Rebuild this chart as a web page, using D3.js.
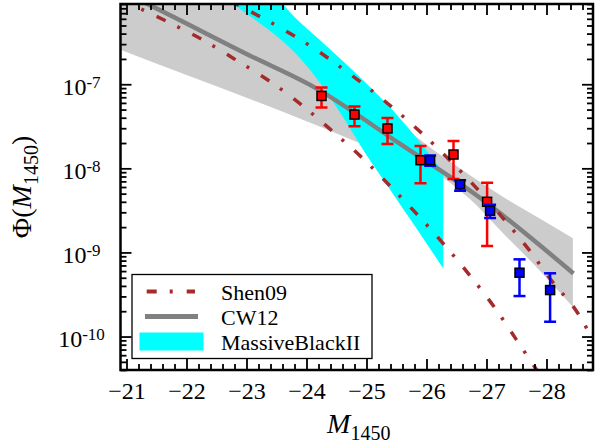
<!DOCTYPE html>
<html>
<head>
<meta charset="utf-8">
<script src="https://cdn.jsdelivr.net/npm/d3@7"></script>
<style>
  html, body { margin: 0; padding: 0; background: #ffffff; }
  svg { display: block; }
  svg text { font-family: "Liberation Serif", "Times New Roman", "DejaVu Serif", serif !important; fill: #000; }
</style>
</head>
<body>
<div id="chart"></div>
<script>
// ---------------- data ----------------
// x-axis ticks (M_1450)
const xMajorTicks = [-21, -22, -23, -24, -25, -26, -27, -28];
// y-axis major ticks (Phi)
const yMajorTicks = [1e-10, 1e-9, 1e-8, 1e-7];
const yTickExponents = ["-10", "-9", "-8", "-7"];

// red data points with error bars
const redM   = [-24.25, -24.80, -25.35, -25.90, -26.45, -27.01];
const redPhi = [7.26e-8, 4.36e-8, 2.98e-8, 1.25e-8, 1.46e-8, 4.0e-9];
const redHi  = [9.14e-8, 5.43e-8, 3.98e-8, 1.85e-8, 2.12e-8, 6.73e-9];
const redLo  = [5.28e-8, 3.17e-8, 1.95e-8, 6.67e-9, 7.45e-9, 1.19e-9];

// blue data points with error bars
const blueM   = [-26.06, -26.56, -27.06, -27.55, -28.06];
const bluePhi = [1.25e-8, 6.44e-9, 3.13e-9, 5.74e-10, 3.57e-10];
const blueHi  = [1.42e-8, 7.24e-9, 3.68e-9, 8.28e-10, 5.65e-10];
const blueLo  = [1.07e-8, 5.41e-9, 2.56e-9, 3.03e-10, 1.50e-10];

// CW12 fit line (log10 Phi)
const cwM   = [-20.9, -21.39, -23.06, -24.14, -25.56, -26.89, -28.45];
const cwLog = [-5.89, -6.06, -6.66, -7.04, -7.71, -8.35, -9.25];

// CW12 uncertainty band (log10 Phi)
const cwBandM     = [-20.9, -22.0, -23.0, -24.0, -25.0, -26.0, -26.7, -27.3, -27.8, -28.44];
const cwBandHiLog = [-5.65, -5.86, -6.10, -6.54, -7.13, -7.72, -8.07, -8.35, -8.56, -8.83];
const cwBandLoLog = [-6.59, -6.89, -7.16, -7.44, -7.73, -7.98, -8.35, -8.79, -9.15, -9.65];

// MassiveBlackII band (log10 Phi)
const mbM     = [-22.6, -23.0, -23.4, -23.8, -24.2, -24.6, -25.0, -25.4, -25.8, -26.28];
const mbHiLog = [-5.40, -5.60, -5.88, -6.20, -6.46, -6.72, -6.99, -7.28, -7.61, -8.05];
const mbLoLog = [-5.96, -6.16, -6.37, -6.62, -6.96, -7.38, -7.84, -8.26, -8.68, -9.19];

// Shen09 curves (log10 Phi)
const shenAM   = [-20.9, -21.11, -21.75, -22.34, -22.89, -23.44, -23.96, -24.45, -24.95, -25.42, -25.86, -26.31, -26.73, -27.13, -27.50, -27.84, -28.0];
const shenALog = [-5.99, -6.06, -6.28, -6.50, -6.74, -6.99, -7.27, -7.57, -7.89, -8.23, -8.56, -8.92, -9.28, -9.65, -10.04, -10.40, -10.57];
const shenBM   = [-21.89, -23.00, -23.59, -24.14, -24.67, -25.20, -25.67, -26.17, -26.63, -27.20, -27.71, -28.10, -28.52, -28.70, -28.89];
const shenBLog = [-5.71, -6.11, -6.34, -6.58, -6.85, -7.14, -7.42, -7.75, -8.08, -8.53, -8.97, -9.35, -9.72, -9.94, -10.18];

const legendLabels = ["Shen09", "CW12", "MassiveBlackII"];

// ---------------- layout ----------------
const W = 596, H = 445;
const L = 120.5, R = 593, T = 4, B = 370;
const colors = { shen: "#a52a2a", cw: "#808080", band: "#cccccc", mb: "#00ffff", red: "#ff0000", blue: "#0000ff" };
const shenDash = "10,13,3,14";

const svg = d3.select("#chart").append("svg").attr("width", W).attr("height", H);

const x = d3.scaleLinear().domain([-20.9, -28.775]).range([L, R]);
const y = d3.scaleLog().domain([4.0e-11, 9.0e-7]).range([B, T]);
const p = v => Math.pow(10, v);

svg.append("defs").append("clipPath").attr("id", "plotclip")
  .append("rect").attr("x", L).attr("y", T).attr("width", R - L).attr("height", B - T);

const plot = svg.append("g").attr("clip-path", "url(#plotclip)");

// CW12 band
const cwBand = cwBandM.map((m, i) => ({ m, hi: p(cwBandHiLog[i]), lo: p(cwBandLoLog[i]) }));
plot.append("path").datum(cwBand)
  .attr("d", d3.area().x(d => x(d.m)).y0(d => y(d.lo)).y1(d => y(d.hi)).curve(d3.curveMonotoneX))
  .attr("fill", colors.band).attr("stroke", "none");

// MassiveBlackII band
const mbBand = mbM.map((m, i) => ({ m, hi: p(mbHiLog[i]), lo: p(mbLoLog[i]) }));
plot.append("path").datum(mbBand)
  .attr("d", d3.area().x(d => x(d.m)).y0(d => y(d.lo)).y1(d => y(d.hi)).curve(d3.curveMonotoneX))
  .attr("fill", colors.mb).attr("stroke", "none");

const line = d3.line().x(d => x(d.m)).y(d => y(d.v)).curve(d3.curveMonotoneX);

// CW12 line
plot.append("path").datum(cwM.map((m, i) => ({ m, v: p(cwLog[i]) })))
  .attr("d", line).attr("fill", "none").attr("stroke", colors.cw).attr("stroke-width", 4.5);

// Shen09 curves
[[shenAM, shenALog], [shenBM, shenBLog]].forEach(([ms, ls]) => {
  plot.append("path").datum(ms.map((m, i) => ({ m, v: p(ls[i]) })))
    .attr("d", line).attr("fill", "none").attr("stroke", colors.shen)
    .attr("stroke-width", 3.5).attr("stroke-dasharray", shenDash);
});

// data points
function drawPoints(ms, phi, hi, lo, col) {
  const g = plot.append("g");
  const pts = ms.map((m, i) => ({ m, v: phi[i], hi: hi[i], lo: lo[i] }));
  const eb = g.selectAll("g.eb").data(pts).enter().append("g");
  eb.append("line").attr("x1", d => x(d.m)).attr("x2", d => x(d.m))
    .attr("y1", d => y(d.hi)).attr("y2", d => y(d.lo))
    .attr("stroke", col).attr("stroke-width", 2.5);
  eb.append("line").attr("x1", d => x(d.m) - 6).attr("x2", d => x(d.m) + 6)
    .attr("y1", d => y(d.hi)).attr("y2", d => y(d.hi))
    .attr("stroke", col).attr("stroke-width", 2.5);
  eb.append("line").attr("x1", d => x(d.m) - 6).attr("x2", d => x(d.m) + 6)
    .attr("y1", d => y(d.lo)).attr("y2", d => y(d.lo))
    .attr("stroke", col).attr("stroke-width", 2.5);
  g.selectAll("rect").data(pts).enter().append("rect")
    .attr("x", d => x(d.m) - 4.5).attr("y", d => y(d.v) - 4.5)
    .attr("width", 9).attr("height", 9)
    .attr("fill", col).attr("stroke", "#000").attr("stroke-width", 1.5);
}
drawPoints(redM, redPhi, redHi, redLo, colors.red);
drawPoints(blueM, bluePhi, blueHi, blueLo, colors.blue);

// ---------------- axes ----------------
const xMinorTicks = d3.range(-21.0, -28.71, -0.2).map(v => +v.toFixed(1))
  .filter(v => !xMajorTicks.includes(v));
const yMinorTicks = [];
for (let e = -11; e <= -7; e++) for (let k = 2; k <= 9; k++) {
  const v = k * Math.pow(10, e);
  if (v >= 4.0e-11 && v <= 9.0e-7) yMinorTicks.push(v);
}

function styleAxis(g) {
  g.select(".domain").remove();
  g.selectAll(".tick line").attr("stroke", "#000").attr("stroke-width", 1.8);
}

// bottom
svg.append("g").attr("transform", `translate(0,${B})`)
  .call(d3.axisBottom(x).tickValues(xMajorTicks).tickSize(-11).tickPadding(12)
    .tickFormat(d => "\u2212" + Math.abs(d)))
  .call(styleAxis)
  .call(g => g.selectAll("text").attr("font-size", 24));
svg.append("g").attr("transform", `translate(0,${B})`)
  .call(d3.axisBottom(x).tickValues(xMinorTicks).tickSize(-6).tickFormat(""))
  .call(styleAxis);
// top
svg.append("g").attr("transform", `translate(0,${T})`)
  .call(d3.axisTop(x).tickValues(xMajorTicks).tickSize(-11).tickFormat(""))
  .call(styleAxis);
svg.append("g").attr("transform", `translate(0,${T})`)
  .call(d3.axisTop(x).tickValues(xMinorTicks).tickSize(-6).tickFormat(""))
  .call(styleAxis);
// left
const yAxisG = svg.append("g").attr("transform", `translate(${L},0)`)
  .call(d3.axisLeft(y).tickValues(yMajorTicks).tickSize(-11).tickPadding(39).tickFormat(() => ""))
  .call(styleAxis);
yAxisG.selectAll(".tick text").each(function(d, i) {
  const t = d3.select(this);
  t.attr("text-anchor", "middle").attr("font-size", 24).attr("dy", "10px");
  t.append("tspan").text("10");
  t.append("tspan").attr("font-size", 17).attr("dy", "-7px").text(yTickExponents[i]);
});
svg.append("g").attr("transform", `translate(${L},0)`)
  .call(d3.axisLeft(y).tickValues(yMinorTicks).tickSize(-6).tickFormat(""))
  .call(styleAxis);
// right
svg.append("g").attr("transform", `translate(${R},0)`)
  .call(d3.axisRight(y).tickValues(yMajorTicks).tickSize(-11).tickFormat(""))
  .call(styleAxis);
svg.append("g").attr("transform", `translate(${R},0)`)
  .call(d3.axisRight(y).tickValues(yMinorTicks).tickSize(-6).tickFormat(""))
  .call(styleAxis);

// frame
svg.append("rect").attr("x", L).attr("y", T).attr("width", R - L).attr("height", B - T)
  .attr("fill", "none").attr("stroke", "#000").attr("stroke-width", 2.5);

// axis labels
const xl = svg.append("text").attr("x", (L + R) / 2 + 2).attr("y", 433).attr("text-anchor", "middle");
xl.append("tspan").attr("font-style", "italic").attr("font-size", 28).text("M");
xl.append("tspan").attr("font-size", 20).attr("dy", 7).text("1450");

const yl = svg.append("text").attr("transform", `translate(31,${(T + B) / 2}) rotate(-90)`)
  .attr("text-anchor", "middle").attr("font-size", 28);
yl.append("tspan").text("\u03A6(");
yl.append("tspan").attr("font-style", "italic").text("M");
yl.append("tspan").attr("font-size", 20).attr("dy", 7).text("1450");
yl.append("tspan").attr("dy", -7).text(")");

// ---------------- legend ----------------
const lg = svg.append("g");
lg.append("rect").attr("x", 132).attr("y", 274.5).attr("width", 240).attr("height", 84)
  .attr("fill", "#fff").attr("stroke", "#000").attr("stroke-width", 1.3);
const rowY = [291.5, 316.5, 341.5];
lg.append("line").attr("x1", 146.7).attr("x2", 195).attr("y1", rowY[0]).attr("y2", rowY[0])
  .attr("stroke", colors.shen).attr("stroke-width", 4).attr("stroke-dasharray", shenDash);
lg.append("line").attr("x1", 145).attr("x2", 198).attr("y1", rowY[1]).attr("y2", rowY[1])
  .attr("stroke", colors.cw).attr("stroke-width", 5);
lg.append("rect").attr("x", 139.5).attr("y", 332.5).attr("width", 64).attr("height", 18)
  .attr("fill", colors.mb);
legendLabels.forEach((s, i) => {
  lg.append("text").attr("x", 221).attr("y", rowY[i] + 8).attr("font-size", 22).text(s);
});
</script>
</body>
</html>
